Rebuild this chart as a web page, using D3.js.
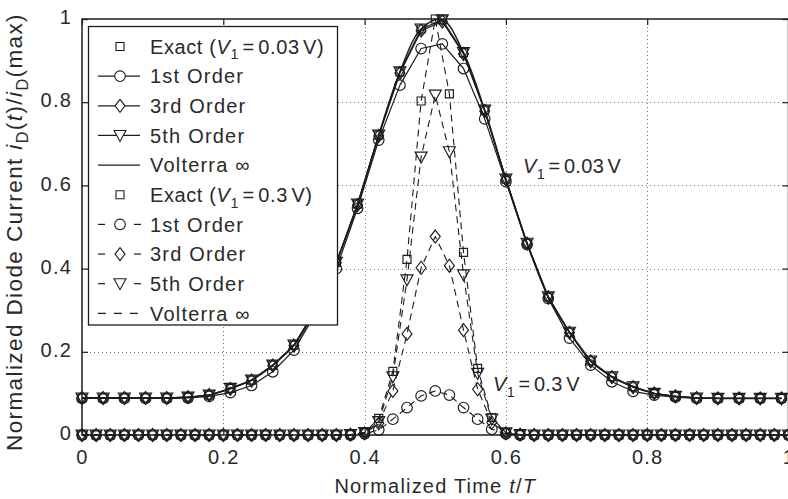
<!DOCTYPE html>
<html><head><meta charset="utf-8">
<script src="https://cdn.jsdelivr.net/npm/d3@7"></script>
<style>
body{margin:0;background:#fff}
svg{display:block}
text{font-family:"Liberation Sans",Arial,sans-serif;fill:#2a2a2a;letter-spacing:1.2px}
</style>
</head><body><svg id="c" width="788" height="499"></svg>
<script>
// ---- data: V1 = 0.03 V (sampled every 0.03) ----
const tA = [0,0.03,0.06,0.09,0.12,0.15,0.18,0.21,0.24,0.27,0.30,0.33,0.36,0.39,0.42,0.45,0.48,0.51,0.54,0.57,0.60,0.63,0.66,0.69,0.72,0.75,0.78,0.81,0.84,0.87,0.90,0.93,0.96,0.99];
const exactA = [0.089,0.089,0.089,0.089,0.089,0.091,0.096,0.112,0.132,0.168,0.216,0.300,0.415,0.555,0.721,0.873,0.976,0.998,0.919,0.781,0.615,0.461,0.332,0.247,0.178,0.140,0.116,0.100,0.093,0.089,0.088,0.088,0.088,0.088];
const ord1A = [0.088,0.088,0.088,0.088,0.088,0.089,0.093,0.102,0.119,0.152,0.204,0.290,0.400,0.545,0.709,0.841,0.929,0.940,0.881,0.760,0.609,0.458,0.328,0.233,0.168,0.128,0.105,0.096,0.091,0.088,0.088,0.088,0.088,0.088];
const ord3A = [0.089,0.089,0.089,0.089,0.089,0.091,0.096,0.111,0.131,0.167,0.215,0.299,0.414,0.553,0.719,0.870,0.972,0.994,0.916,0.779,0.614,0.460,0.331,0.246,0.177,0.139,0.115,0.100,0.093,0.089,0.088,0.088,0.088,0.088];
const ord5A = [0.089,0.089,0.089,0.089,0.089,0.091,0.096,0.112,0.132,0.168,0.216,0.300,0.415,0.555,0.721,0.873,0.976,0.998,0.919,0.781,0.615,0.461,0.332,0.247,0.178,0.140,0.116,0.100,0.093,0.089,0.088,0.088,0.088,0.088];
const voltA = [0.089,0.089,0.089,0.089,0.089,0.091,0.096,0.112,0.132,0.168,0.216,0.300,0.415,0.555,0.721,0.873,0.976,0.998,0.919,0.781,0.615,0.461,0.332,0.247,0.178,0.140,0.116,0.100,0.093,0.089,0.088,0.088,0.088,0.088];

// ---- data: V1 = 0.3 V (sampled every 0.02) ----
const tB = [0,0.02,0.04,0.06,0.08,0.10,0.12,0.14,0.16,0.18,0.20,0.22,0.24,0.26,0.28,0.30,0.32,0.34,0.36,0.38,0.40,0.42,0.44,0.46,0.48,0.50,0.52,0.54,0.56,0.58,0.60,0.62,0.64,0.66,0.68,0.70,0.72,0.74,0.76,0.78,0.80,0.82,0.84,0.86,0.88,0.90,0.92,0.94,0.96,0.98,1.00];
const exactB = [0,0,0,0,0,0,0,0,0,0,0,0,0,0,0,0,0,0,0,0.001,0.006,0.040,0.153,0.422,0.803,1.000,0.820,0.439,0.160,0.042,0.006,0.001,0,0,0,0,0,0,0,0,0,0,0,0,0,0,0,0,0,0,0];
const ord1B  = [0,0,0,0,0,0,0,0,0,0,0,0,0,0,0,0,0,0,0,0,0.003,0.012,0.038,0.066,0.094,0.106,0.096,0.066,0.038,0.014,0.003,0,0,0,0,0,0,0,0,0,0,0,0,0,0,0,0,0,0,0,0];
const ord3B  = [0,0,0,0,0,0,0,0,0,0,0,0,0,0,0,0,0,0,0,0.001,0.004,0.028,0.106,0.243,0.402,0.477,0.407,0.252,0.110,0.030,0.004,0.001,0,0,0,0,0,0,0,0,0,0,0,0,0,0,0,0,0,0,0];
const ord5B  = [0,0,0,0,0,0,0,0,0,0,0,0,0,0,0,0,0,0,0,0.001,0.006,0.032,0.140,0.373,0.668,0.817,0.681,0.385,0.148,0.038,0.005,0.001,0,0,0,0,0,0,0,0,0,0,0,0,0,0,0,0,0,0,0];
const voltB  = [0,0,0,0,0,0,0,0,0,0,0,0,0,0,0,0,0,0,0,0.001,0.006,0.040,0.153,0.422,0.803,1.000,0.820,0.439,0.160,0.042,0.006,0.001,0,0,0,0,0,0,0,0,0,0,0,0,0,0,0,0,0,0,0];

const xTicks = [0,0.2,0.4,0.6,0.8,1];
const yTicks = [0,0.2,0.4,0.6,0.8,1];
const xLabel = "Normalized Time ";
const orderNames = ["1st Order","3rd Order","5th Order","Volterra \u221e"];

// ---- setup ----
const svg = d3.select("#c");
const L=82, R=788.5, T=19, B=435;
const x = d3.scaleLinear().domain([0,1]).range([L,R]);
const y = d3.scaleLinear().domain([0,1]).range([B,T]);
const INK = "#1c1c1c";
const DASH = "7,5";

// grid
const grid = svg.append("g");
grid.selectAll("line.v").data(xTicks.filter(d=>d>0&&d<1)).join("line")
  .attr("x1",d=>Math.round(x(d))+0.5).attr("x2",d=>Math.round(x(d))+0.5).attr("y1",T).attr("y2",B)
  .attr("stroke","#777").attr("stroke-width",1).attr("stroke-dasharray","1,3");
grid.selectAll("line.h").data(yTicks.filter(d=>d>0&&d<1)).join("line")
  .attr("y1",d=>Math.round(y(d))+0.5).attr("y2",d=>Math.round(y(d))+0.5).attr("x1",L).attr("x2",R)
  .attr("stroke","#777").attr("stroke-width",1).attr("stroke-dasharray","1,3");

// axes (inner ticks)
const fmt = d3.format("~g");
const gx = svg.append("g").attr("transform",`translate(0,${B})`)
  .call(d3.axisBottom(x).tickValues(xTicks).tickFormat(fmt).tickSize(-6).tickSizeOuter(0).tickPadding(15));
const gy = svg.append("g").attr("transform",`translate(${L},0)`)
  .call(d3.axisLeft(y).tickValues(yTicks).tickFormat(fmt).tickSize(-6).tickSizeOuter(0).tickPadding(10));
const gt = svg.append("g").attr("transform",`translate(0,${T})`)
  .call(d3.axisTop(x).tickValues(xTicks).tickFormat("").tickSize(-6).tickSizeOuter(0));
const gr = svg.append("g").attr("transform",`translate(${R},0)`)
  .call(d3.axisRight(y).tickValues(yTicks).tickFormat("").tickSize(-6).tickSizeOuter(0));
[gx,gy,gt,gr].forEach(g=>{
  g.select(".domain").remove();
  g.selectAll(".tick line").attr("stroke",INK).attr("stroke-width",1.2);
  g.selectAll("text").attr("font-size",20).attr("font-family","Liberation Sans, Arial, sans-serif").attr("fill","#2a2a2a");
});
gy.selectAll("text").attr("dy","0.23em");

// frame
svg.append("rect").attr("x",L).attr("y",T).attr("width",R-L).attr("height",B-T)
  .attr("fill","none").attr("stroke",INK).attr("stroke-width",1.5);

// markers
function markerPath(type){
  if(type==="circle") return d3.symbol(d3.symbolCircle, Math.PI*5.3*5.3)();
  if(type==="square") return "M-4,-4H4V4H-4Z";
  if(type==="diamond") return "M0,-6.5L5,0L0,6.5L-5,0Z";
  if(type==="tri") return "M-6,-5L6,-5L0,6Z";
  return null;
}

const plot = svg.append("g");
function drawSeries(ts, vs, opt){
  const pts = ts.map((t,i)=>[t, vs[i]]);
  if(opt.line){
    const gen = d3.line().x(d=>x(d[0])).y(d=>y(d[1]));
    if(opt.smooth) gen.curve(d3.curveCatmullRom.alpha(0.5));
    plot.append("path").datum(pts).attr("d",gen).attr("fill","none")
      .attr("stroke",INK).attr("stroke-width",opt.width||1.3)
      .attr("stroke-dasharray",opt.dash?DASH:null).attr("stroke-linejoin","round");
  }
  if(opt.marker){
    plot.append("g").selectAll("path").data(pts).join("path")
      .attr("transform",d=>`translate(${x(d[0])},${y(d[1])})`)
      .attr("d",markerPath(opt.marker)).attr("fill","none")
      .attr("stroke",INK).attr("stroke-width",1.15);
  }
}
// V1 = 0.03 V
drawSeries(tA, exactA, {marker:"square"});
drawSeries(tA, ord1A, {line:true, marker:"circle", width:1.2});
drawSeries(tA, ord3A, {line:true, marker:"diamond"});
drawSeries(tA, ord5A, {line:true, marker:"tri"});
drawSeries(tA, voltA, {line:true, smooth:true, width:1.5});
// V1 = 0.3 V
drawSeries(tB, exactB, {marker:"square"});
drawSeries(tB, ord1B, {line:true, dash:true, marker:"circle", width:1.1});
drawSeries(tB, ord3B, {line:true, dash:true, marker:"diamond", width:1.1});
drawSeries(tB, ord5B, {line:true, dash:true, marker:"tri", width:1.1});
drawSeries(tB, voltB, {line:true, dash:true, width:1.1});

// text helper with italic / subscript parts
function richText(sel, parts, size){
  parts.forEach(p=>{
    const ts = sel.append("tspan").text(p.t);
    if(p.it) ts.attr("font-style","italic");
    if(p.sub){ ts.attr("font-size",size*0.72).attr("dy",size*0.28); }
    if(p.up){ ts.attr("dy",-size*0.28); }
    if(p.dx) ts.attr("dx",p.dx);
  });
}
const vPart = (val)=>[{t:"V",it:true},{t:"1",sub:true},{t:"=",up:true,dx:3.5},{t:val,dx:3.5},{t:"V",dx:3.5}];

// legend
const lg = svg.append("g");
lg.append("rect").attr("x",88.5).attr("y",26.5).attr("width",249).attr("height",298.5)
  .attr("fill","#fff").attr("stroke",INK).attr("stroke-width",1.3);
const entries = [
  {parts:[{t:"Exact ("},...vPart("0.03"),{t:")"}], marker:"square"},
  {parts:[{t:orderNames[0]}], marker:"circle", line:true},
  {parts:[{t:orderNames[1]}], marker:"diamond", line:true},
  {parts:[{t:orderNames[2]}], marker:"tri", line:true},
  {parts:[{t:orderNames[3]}], line:true},
  {parts:[{t:"Exact ("},...vPart("0.3"),{t:")"}], marker:"square"},
  {parts:[{t:orderNames[0]}], marker:"circle", line:true, dash:true},
  {parts:[{t:orderNames[1]}], marker:"diamond", line:true, dash:true},
  {parts:[{t:orderNames[2]}], marker:"tri", line:true, dash:true},
  {parts:[{t:orderNames[3]}], line:true, dash:true}
];
entries.forEach((e,i)=>{
  const cy = 46.5 + i*29.65;
  const g = lg.append("g").attr("transform",`translate(0,${cy})`);
  if(e.line){
    if(e.dash && e.marker){
      g.append("line").attr("x1",98).attr("x2",105).attr("y1",0).attr("y2",0).attr("stroke",INK).attr("stroke-width",1.2);
      g.append("line").attr("x1",134).attr("x2",141).attr("y1",0).attr("y2",0).attr("stroke",INK).attr("stroke-width",1.2);
    } else {
      g.append("line").attr("x1",98).attr("x2",140).attr("y1",0).attr("y2",0)
        .attr("stroke",INK).attr("stroke-width",1.3).attr("stroke-dasharray",e.dash?"8,8":null);
    }
  }
  if(e.marker){
    g.append("path").attr("transform","translate(120,0)").attr("d",markerPath(e.marker))
      .attr("fill",e.line?"#fff":"none").attr("stroke",INK).attr("stroke-width",1.1);
  }
  const isExact = !!e.parts.find(p=>p.sub);
  const tx = g.append("text").attr("x",150).attr("y",7.3).attr("font-size",20);
  if(isExact) tx.style("letter-spacing","0.6px");
  richText(tx, e.parts, 20);
});

// annotations
const a1 = svg.append("text").attr("x",523).attr("y",173).attr("font-size",20).style("letter-spacing","0.3px");
richText(a1, vPart("0.03"), 20);
const a2 = svg.append("text").attr("x",493).attr("y",391).attr("font-size",20).style("letter-spacing","0.3px");
richText(a2, vPart("0.3"), 20);

// axis labels
const xl = svg.append("text").attr("x",(L+R)/2).attr("y",493).attr("text-anchor","middle").attr("font-size",20);
richText(xl, [{t:xLabel},{t:"t",it:true},{t:"/"},{t:"T",it:true}], 20);
const yl = svg.append("text").attr("transform","translate(22,232) rotate(-90)").attr("text-anchor","middle")
  .attr("font-size",22.5).style("letter-spacing","1.4px");
richText(yl, [{t:"Normalized Diode Current "},{t:"i",it:true},{t:"D",sub:true},{t:"(",up:true},{t:"t",it:true},{t:")/"},{t:"i",it:true},{t:"D",sub:true},{t:"(max)",up:true}], 22.5);
</script>
</body></html>
